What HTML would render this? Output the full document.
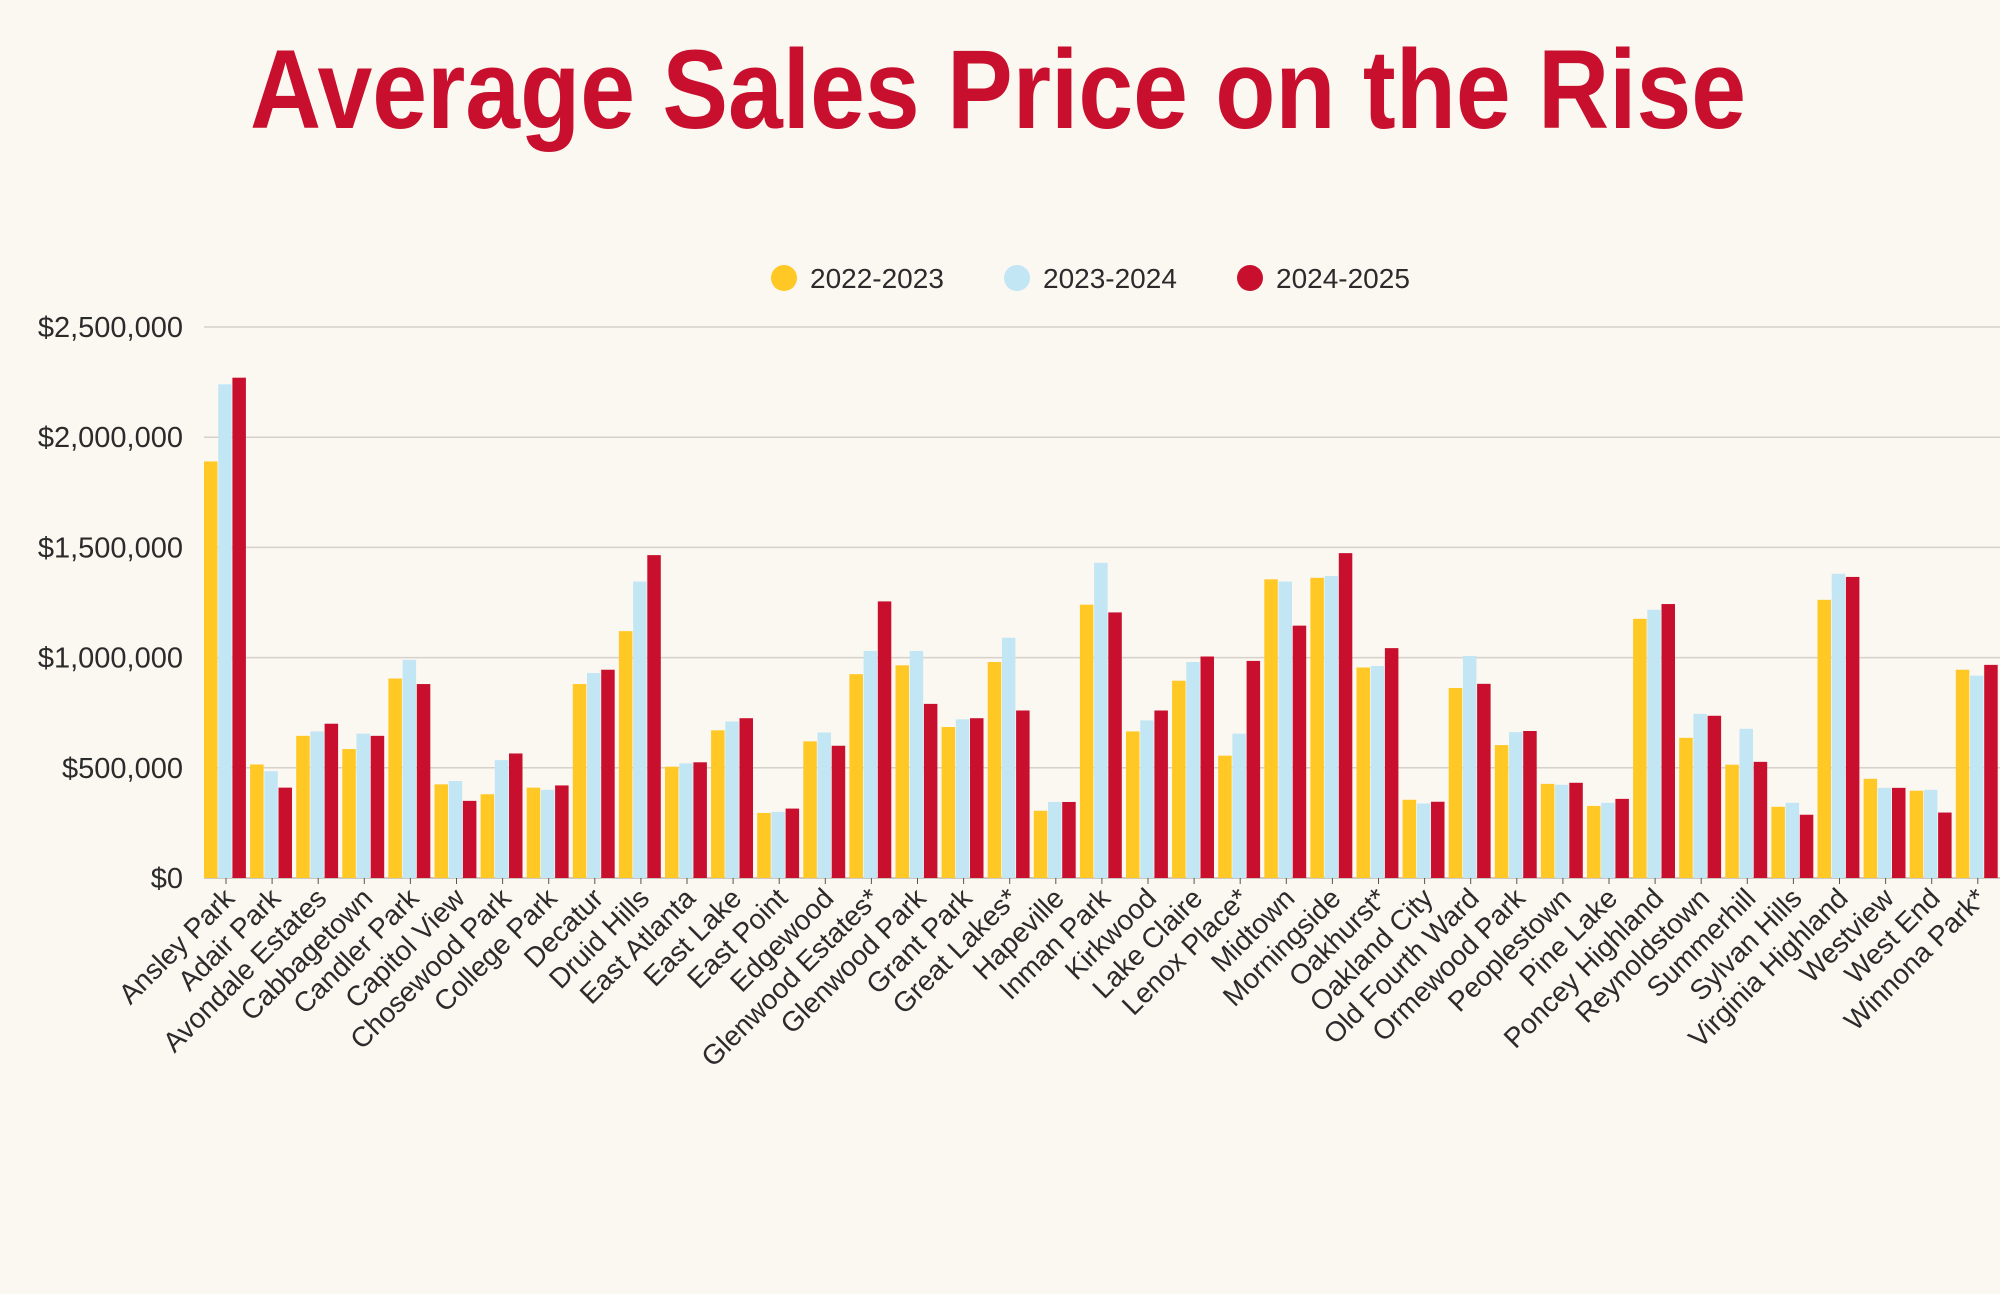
<!DOCTYPE html>
<html>
<head>
<meta charset="utf-8">
<style>
html,body{margin:0;padding:0;background:#FBF7F1;}
body{width:2000px;height:1294px;overflow:hidden;font-family:"Liberation Sans",sans-serif;}
svg{display:block;}
</style>
</head>
<body>
<svg id="chart" width="2000" height="1294" viewBox="0 0 2000 1294" xmlns="http://www.w3.org/2000/svg">
  <rect x="0" y="0" width="2000" height="1294" fill="#FBF7F1"/>
  <text x="998" y="128" text-anchor="middle" font-family="Liberation Sans, sans-serif" font-weight="bold" font-size="112" fill="#C8102E" textLength="1496" lengthAdjust="spacingAndGlyphs">Average Sales Price on the Rise</text>
  <g id="legend"></g>
  <g id="grid"></g>
  <g id="yaxis"></g>
  <g id="bars"></g>
  <g id="xaxis"></g>
</svg>
<script>
const categories = ["Ansley Park","Adair Park","Avondale Estates","Cabbagetown","Candler Park","Capitol View","Chosewood Park","College Park","Decatur","Druid Hills","East Atlanta","East Lake","East Point","Edgewood","Glenwood Estates*","Glenwood Park","Grant Park","Great Lakes*","Hapeville","Inman Park","Kirkwood","Lake Claire","Lenox Place*","Midtown","Morningside","Oakhurst*","Oakland City","Old Fourth Ward","Ormewood Park","Peoplestown","Pine Lake","Poncey Highland","Reynoldstown","Summerhill","Sylvan Hills","Virginia Highland","Westview","West End","Winnona Park*"];
const series2022 = [1890000,515000,645000,585000,905000,425000,380000,410000,880000,1120000,505000,670000,295000,620000,925000,965000,685000,980000,305000,1240000,665000,895000,555000,1355000,1362000,955000,355000,862000,603000,427000,327000,1176000,636000,514000,323000,1262000,450000,396000,945000];
const series2023 = [2240000,485000,665000,655000,990000,440000,535000,400000,930000,1345000,520000,710000,300000,660000,1030000,1030000,720000,1090000,345000,1430000,715000,980000,655000,1345000,1370000,962000,338000,1007000,662000,423000,341000,1217000,745000,677000,341000,1380000,409000,400000,918000];
const series2024 = [2270000,410000,700000,645000,880000,350000,565000,420000,945000,1465000,525000,725000,315000,600000,1255000,790000,725000,760000,345000,1205000,760000,1005000,985000,1145000,1474000,1043000,346000,881000,667000,432000,359000,1243000,736000,527000,287000,1366000,409000,297000,967000];
const seriesNames = ["2022-2023","2023-2024","2024-2025"];
const yTicks = [0,500000,1000000,1500000,2000000,2500000];
const yTickLabels = ["$0","$500,000","$1,000,000","$1,500,000","$2,000,000","$2,500,000"];

const colors = ["#FFC825","#C2E6F4","#C8102E"];
const NS = "http://www.w3.org/2000/svg";
const plotLeft = 204, groupStep = 46.1, barW = 13.5, barStep = 14.2;
const y0 = 878, yTop = 327, yMax = 2500000;
function yScale(v){ return y0 - (v / yMax) * (y0 - yTop); }
function xGroup(i){ return plotLeft + i * groupStep; }
function mk(tag, attrs, parent){ const e = document.createElementNS(NS, tag); for (const k in attrs) e.setAttribute(k, attrs[k]); parent.appendChild(e); return e; }

const grid = document.getElementById('grid');
const yaxis = document.getElementById('yaxis');
yTicks.forEach((t, i) => {
  const y = yScale(t);
  const ln = mk('line', {x1:204, x2:2000, y1:y, y2:y, stroke: t===0 ? '#BDB8B0' : '#D6D1C9', 'stroke-width':1.5}, grid);
  
  
  const tx = mk('text', {x:183, y:y+10, 'text-anchor':'end', 'font-size':29, fill:'#2b2b2b', 'font-family':'Liberation Sans, sans-serif'}, yaxis);
  tx.textContent = yTickLabels[i];
  
  
});

const bars = document.getElementById('bars');
const allSeries = [series2022, series2023, series2024];
categories.forEach((c, i) => {
  allSeries.forEach((s, j) => {
    const x = xGroup(i) + j * barStep;
    const y = yScale(s[i]);
    const r = mk('rect', {x:x, y:y, width:barW, height:y0 - y, fill:colors[j]}, bars);
    
    
  });
});

const xaxis = document.getElementById('xaxis');
categories.forEach((c, i) => {
  const cx = xGroup(i) + 22;
  const tk = mk('line', {x1:cx, x2:cx, y1:y0, y2:y0+6, stroke:'#555', 'stroke-width':1}, xaxis);
  
  
  const tx = mk('text', {x:cx+10, y:y0+22, 'text-anchor':'end', 'font-size':28, fill:'#2b2b2b', 'font-family':'Liberation Sans, sans-serif', transform:'rotate(-45 '+(cx+10)+' '+(y0+22)+')'}, xaxis);
  tx.textContent = c;
  
  
});

const legend = document.getElementById('legend');
const legendX = [784, 1017, 1250];
seriesNames.forEach((n, j) => {
  const g = mk('g', {}, legend);
  
  
  mk('circle', {cx:legendX[j], cy:278, r:13, fill:colors[j]}, g);
  const t = mk('text', {x:legendX[j]+26, y:288, 'font-size':28, fill:'#2b2b2b', 'font-family':'Liberation Sans, sans-serif'}, g);
  t.textContent = n;
});
</script>
</body>
</html>
